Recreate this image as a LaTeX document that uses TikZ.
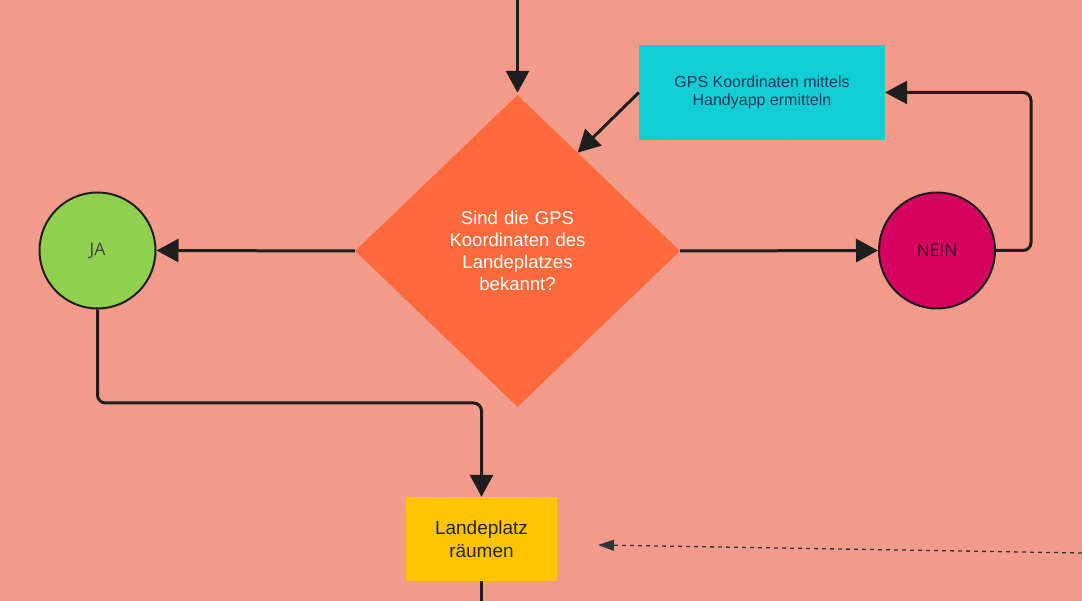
\documentclass[tikz,border=0pt]{standalone}
\usepackage{fontspec}
\setmainfont{Liberation Sans}
\newfontfamily\answerfont{Open Sans}
\usetikzlibrary{shapes.geometric,arrows.meta,calc}

\definecolor{bgsalmon}{HTML}{F29B8A}
\definecolor{gridsalmon}{HTML}{EE9886}
\definecolor{linedark}{HTML}{1E1E1E}
\definecolor{diacoral}{HTML}{FF6A3D}
\definecolor{boxcyan}{HTML}{13CDD4}
\definecolor{jagreen}{HTML}{8FD14F}
\definecolor{neinpink}{HTML}{D50060}
\definecolor{boxyellow}{HTML}{FFC400}
\definecolor{textnavy}{HTML}{1F3A5C}

\tikzset{
  flowline/.style={line width=3pt, draw=linedark, rounded corners=8pt,
    -{Triangle[length=22pt,width=23pt]}},
  answer/.style={circle, draw=linedark, line width=2pt, minimum size=116pt,
    inner sep=0pt, font=\answerfont\fontsize{17.5}{20}\selectfont},
}

\begin{document}
\begin{tikzpicture}[x=1pt,y=1pt,yscale=-1,xscale=1]
%Background
\fill[bgsalmon] (0,0) rectangle (1082,601);
\useasboundingbox (0,0) rectangle (1082,601);
%Grid
\foreach \gx in {90,206,322,438,554,670,786,902,1018}
  \draw[gridsalmon, line width=0.8pt] (\gx,0) -- (\gx,601);
\foreach \gy in {43,159,275,391,507}
  \draw[gridsalmon, line width=0.8pt] (0,\gy) -- (1082,\gy);

%Shape: Diamond
\node (dia) [diamond, fill=diacoral, inner sep=0pt, minimum width=325pt, minimum height=312pt,
  text width=170pt, align=center, text=white, font=\fontsize{18.5}{22}\selectfont]
  at (517.5,251) {Sind die GPS\\Koordinaten des\\Landeplatzes\\bekannt?};
%Shape: Rectangle
\node (gps) [rectangle, fill=boxcyan, minimum width=246pt, minimum height=95pt, inner sep=0pt,
  align=center, text=textnavy, font=\fontsize{16}{18}\selectfont]
  at (762,92.5) {GPS Koordinaten mittels\\Handyapp ermitteln};
%Shape: Circle
\node (ja) [answer, fill=jagreen, text=black!75] at (97.5,250.5) {JA};
%Shape: Circle
\node (nein) [answer, fill=neinpink, text=black!70!neinpink] at (937,250.5) {NEIN};
%Shape: Rectangle
\node (raeumen) [rectangle, fill=boxyellow, minimum width=151pt, minimum height=84pt, inner sep=0pt,
  align=center, text=black!85, font=\fontsize{19}{23.5}\selectfont]
  at (481.5,539) {Landeplatz\\räumen};

%Free ends
\coordinate (intop) at (517.5,0);
\coordinate (outbottom) at (481.5,601);
\coordinate (dashstart) at (1082,553);
\coordinate (dashend) at (598,545);

%Straight Lines
\draw[flowline] (intop) -- ([yshift=-2pt]dia.north);
\draw[flowline] (gps.west) -- ($(dia.north)!0.37!(dia.east)$);
\draw[flowline] (dia.west) -- (ja.east);
\draw[flowline] (dia.east) -- (nein.west);
\draw[flowline] (nein.east) -- (1031,250.5) |- (gps.east);
\draw[flowline] (ja.south) -- (97.5,403) -| (raeumen.north);
\draw[line width=3pt, draw=linedark] (raeumen.south) -- (outbottom);
%Dashed Line
\draw[line width=1.3pt, draw=linedark!90, dash pattern=on 4pt off 4pt,
  -{Triangle[length=16pt,width=11pt]}] (dashstart) -- (dashend);
\end{tikzpicture}
\end{document}
